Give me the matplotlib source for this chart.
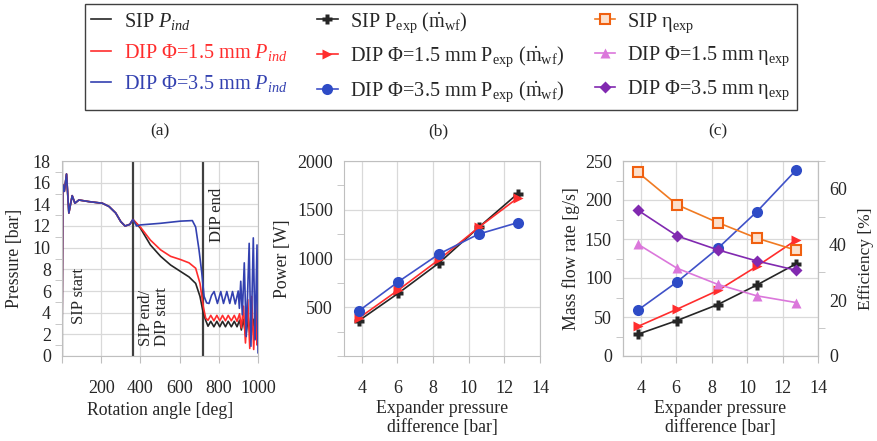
import matplotlib
matplotlib.use("Agg")
import matplotlib.pyplot as plt
from matplotlib.ticker import MultipleLocator

plt.rcParams.update({
    "font.family": ["Liberation Serif", "DejaVu Serif"],
    "mathtext.fontset": "custom",
    "mathtext.rm": "Liberation Serif",
    "mathtext.it": "Liberation Serif:italic",
    "font.size": 12,
    "text.color": "#262626",
    "axes.labelcolor": "#262626",
    "xtick.color": "#262626",
    "ytick.color": "#262626",
})

# ── (a) indicated pressure vs rotation angle ─────────────────────────────────
common_deg = [0, 4, 12, 23, 35, 52, 66, 86, 138, 206, 240, 274, 300, 322, 346, 362]
common_bar = [0, 15.8, 15.2, 16.8, 13.2, 14.8, 14.1, 14.4, 14.25, 14.1, 13.8, 13.2, 12.4, 12.0, 12.15, 12.6]

sip_deg = common_deg + [400, 451, 503, 554, 605, 648, 682, 704, 721, 733, 745, 759, 775, 790, 805,
                        819, 834, 848, 864, 879, 893, 906, 915, 925, 938, 950, 962, 975, 988, 1000]
sip_bar = common_bar + [11.8, 10.25, 9.2, 8.4, 7.8, 7.3, 6.7, 5.5, 3.95, 3.3, 2.75, 3.2, 2.7, 3.2, 2.7,
                        3.2, 2.7, 3.2, 2.7, 3.2, 2.7, 3.3, 2.4, 3.4, 1.8, 3.6, 1.5, 3.4, 1.6, 2.2]

d15_deg = common_deg + [400, 451, 503, 554, 605, 648, 682, 704, 721, 733, 745, 759, 775, 790, 805,
                        819, 834, 848, 864, 879, 893, 906, 915, 926, 936, 948, 958, 968, 978, 988, 996, 1000]
d15_bar = common_bar + [11.9, 10.7, 9.8, 9.2, 8.9, 8.6, 8.1, 6.7, 4.55, 3.5, 3.3, 3.75, 3.25, 3.75, 3.25,
                        3.75, 3.25, 3.75, 3.25, 3.75, 3.2, 3.9, 2.6, 4.6, 1.2, 5.2, 0.7, 5.5, 0.6, 4.9, 1.0, 2.2]

d35_deg = common_deg + [380, 400, 503, 605, 665, 682, 699, 713, 725, 738, 750, 763, 776, 793, 810, 824,
                        841, 856, 870, 884, 899, 905, 912, 920, 930, 940, 955, 964, 976, 985, 995, 1000]
d35_bar = common_bar + [12.0, 12.1, 12.25, 12.45, 12.5, 11.9, 9.8, 7.7, 5.5, 4.9, 4.85, 5.6, 5.95, 4.85, 5.95, 4.85,
                        5.95, 4.85, 5.95, 4.8, 6.0, 4.4, 6.9, 3.8, 8.6, 1.8, 10.4, 0.9, 10.9, 1.5, 10.25, 0.3]

phase_deg = [0, 360, 720]

# ── (b), (c) expander tests ──────────────────────────────────────────────────
dp = [3.85, 6.05, 8.35, 10.55, 12.75]
pexp_sip = [364, 644, 957, 1318, 1665]
pexp_d15 = [391, 677, 991, 1318, 1621]
pexp_d35 = [465, 762, 1048, 1250, 1368]
mdot_sip = [28, 45.5, 66, 91, 118]
mdot_d15 = [38, 60, 84, 115, 148.5]
mdot_d35 = [59, 95, 138, 185, 238]
eta_sip = [65.9, 54.3, 47.9, 42.3, 38.0]
eta_d15 = [40.1, 31.5, 25.7, 21.6, 19.2]
eta_d35 = [52.3, 43.1, 38.1, 34.1, 30.8]

C_BLACK, C_RED, C_BLUE = "#262626", "#FF2D2D", "#3341B0"
C_BLUE2, C_ORANGE, C_VIOLET, C_PURPLE = "#3F51C8", "#F07A22", "#DB77DB", "#8129B0"
GRID, SPINE = "#D9D9D9", "#BFBFBF"
TICK_FS, LABEL_FS = 13, 12.8

W, H = 878, 441
fig = plt.figure(figsize=(W / 100, H / 100), dpi=100)


def add_ax(x0, x1, y0=161, y1=356):
    ax = fig.add_axes([x0 / W, 1 - y1 / H, (x1 - x0) / W, (y1 - y0) / H])
    ax.grid(True, color=GRID, linewidth=0.9)
    ax.set_axisbelow(True)
    for s in ax.spines.values():
        s.set_color(SPINE)
    ax.tick_params(axis="x", which="major", length=5, color=SPINE, pad=12, labelsize=TICK_FS)
    ax.tick_params(axis="y", which="major", length=0, pad=8, labelsize=TICK_FS)
    ax.tick_params(axis="y", which="minor", length=5, color=SPINE)
    ax.tick_params(axis="x", which="minor", length=0)
    return ax


# (a)
axa = add_ax(62, 258)
h_sip, = axa.plot(sip_deg, sip_bar, color=C_BLACK, lw=1.2)
h_d15, = axa.plot(d15_deg, d15_bar, color=C_RED, lw=1.2)
h_d35, = axa.plot(d35_deg, d35_bar, color=C_BLUE, lw=1.2)
for d in phase_deg:
    axa.axvline(d, color="#404040", lw=1.6, zorder=1)
axa.set_xlim(0, 1000)
axa.set_ylim(0, 18)
axa.set_xticks(range(0, 1001, 200))
axa.set_xticklabels(["", "200", "400", "600", "800", "1000"])
axa.yaxis.set_major_locator(MultipleLocator(2))
axa.yaxis.set_minor_locator(MultipleLocator(1))
axa.set_ylabel("Pressure [bar]", fontsize=LABEL_FS)
axa.yaxis.set_label_coords(-0.2, 0.5)
axa.set_xlabel("Rotation angle [deg]", fontsize=LABEL_FS)
axa.xaxis.set_label_coords(0.5, -0.235)
axa.text(88, 5.5, "SIP start", rotation=90, ha="center", va="center", fontsize=12)
axa.text(468, 0.9, "SIP end/\nDIP start", rotation=90, ha="center", va="bottom",
         multialignment="left", fontsize=12, linespacing=1.0)
axa.text(790, 13.0, "DIP end", rotation=90, ha="center", va="center", fontsize=12)

# (b)
axb = add_ax(344, 540)
hb1, = axb.plot(dp, pexp_sip, color=C_BLACK, lw=1.2, marker="P", ms=7, mec="none")
hb2, = axb.plot(dp, pexp_d15, color=C_RED, lw=1.2, marker=">", ms=7, mec="none")
hb3, = axb.plot(dp, pexp_d35, color=C_BLUE2, lw=1.2, marker="o", ms=8, mfc="#2E4BC6", mec="none")
axb.set_xlim(3, 14)
axb.set_ylim(0, 2000)
axb.set_xticks(range(4, 15, 2))
axb.set_yticks([500, 1000, 1500, 2000])
axb.yaxis.set_minor_locator(MultipleLocator(250))
axb.set_ylabel("Power [W]", fontsize=LABEL_FS)
axb.yaxis.set_label_coords(-0.27, 0.5)
axb.set_xlabel("Expander pressure\ndifference [bar]", fontsize=LABEL_FS, linespacing=1.15)
axb.xaxis.set_label_coords(0.5, -0.225)

# (c)
axc = add_ax(623, 818)
axc.plot(dp, mdot_sip, color=C_BLACK, lw=1.2, marker="P", ms=7, mec="none", zorder=4)
axc.plot(dp, mdot_d15, color=C_RED, lw=1.2, marker=">", ms=7, mec="none", zorder=4)
axc.plot(dp, mdot_d35, color=C_BLUE2, lw=1.2, marker="o", ms=8, mfc="#2E4BC6", mec="none", zorder=4)
axc.set_xlim(3, 14)
axc.set_ylim(0, 250)
axc.set_xticks(range(4, 15, 2))
axc.yaxis.set_major_locator(MultipleLocator(50))
axc.yaxis.set_minor_locator(MultipleLocator(25))
axc.set_ylabel("Mass flow rate [g/s]", fontsize=LABEL_FS)
axc.yaxis.set_label_coords(-0.22, 0.5)
axc.set_xlabel("Expander pressure\ndifference [bar]", fontsize=LABEL_FS, linespacing=1.15)
axc.xaxis.set_label_coords(0.5, -0.225)

axr = axc.twinx()
axr.set_position(axc.get_position())
for s in axr.spines.values():
    s.set_color(SPINE)
hc1, = axr.plot(dp, eta_sip, color=C_ORANGE, lw=1.2, marker="s", ms=7, mfc="#FCE0CC", mec="#F06010", mew=1.5)
hc2, = axr.plot(dp, eta_d15, color=C_VIOLET, lw=1.2, marker="^", ms=7, mec="none")
hc3, = axr.plot(dp, eta_d35, color=C_PURPLE, lw=1.2, marker="D", ms=6, mec="none")
axr.set_ylim(0, 70)
axr.yaxis.set_major_locator(MultipleLocator(20))
axr.yaxis.set_minor_locator(MultipleLocator(10))
axr.tick_params(axis="y", which="major", length=0, pad=8, labelsize=TICK_FS)
axr.tick_params(axis="y", which="minor", length=5, color=SPINE)
axr.set_ylabel("Efficiency [%]", fontsize=12.5)
axr.yaxis.set_label_coords(1.205, 0.5)

for x, lab in [(160, "(a)"), (438, "(b)"), (718, "(c)")]:
    fig.text(x / W, 1 - 131 / H, lab, ha="center", va="center", fontsize=12.5)

# legend
handles = [h_sip, h_d15, h_d35, hb1, hb2, hb3, hc1, hc2, hc3]
labels = [
    r"SIP $P_{ind}$",
    r"DIP Φ=1.5 mm $P_{ind}$",
    r"DIP Φ=3.5 mm $P_{ind}$",
    r"SIP P$_{\rm exp}$ ($\dot{\rm m}_{\rm wf}$)",
    r"DIP Φ=1.5 mm P$_{\rm exp}$ ($\dot{\rm m}_{\rm wf}$)",
    r"DIP Φ=3.5 mm P$_{\rm exp}$ ($\dot{\rm m}_{\rm wf}$)",
    r"SIP η$_{\rm exp}$",
    r"DIP Φ=1.5 mm η$_{\rm exp}$",
    r"DIP Φ=3.5 mm η$_{\rm exp}$",
]
leg = fig.legend(handles, labels, ncol=3, loc="upper left", bbox_to_anchor=(85 / W, 1 - 4 / H),
                 borderaxespad=0, fontsize=14.6, frameon=True, fancybox=False, edgecolor="#404040",
                 framealpha=1, handlelength=1.0, handletextpad=0.6, columnspacing=1.5,
                 labelspacing=0.5, borderpad=0.3)
leg.get_frame().set_linewidth(1.0)
for t, c in zip(leg.get_texts()[:3], [C_BLACK, C_RED, C_BLUE]):
    t.set_color(c)

fig.savefig("out.png", dpi=100)
